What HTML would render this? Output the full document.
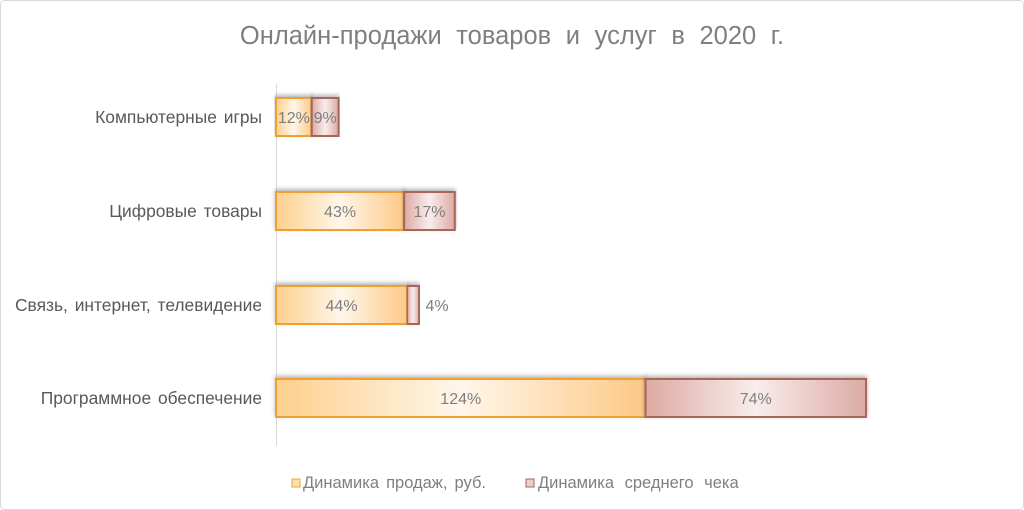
<!DOCTYPE html>
<html><head><meta charset="utf-8"><style>
body{margin:0;background:#fff;}
svg{display:block;font-family:"Liberation Sans",sans-serif;}
</style></head><body>
<svg id="c" width="1024" height="510">
<defs>
<linearGradient id="go" x1="0" x2="1" y1="0" y2="0">
<stop offset="0" stop-color="#fdd08c"/><stop offset="0.5" stop-color="#fff6ea"/><stop offset="1" stop-color="#fdc985"/></linearGradient>
<linearGradient id="gr" x1="0" x2="1" y1="0" y2="0">
<stop offset="0" stop-color="#ddaaa2"/><stop offset="0.5" stop-color="#f9eded"/><stop offset="1" stop-color="#dcaaa3"/></linearGradient>
<filter id="sh" x="-5%" y="-30%" width="110%" height="160%"><feDropShadow dx="0" dy="-2" stdDeviation="2" flood-color="#000" flood-opacity="0.3"/></filter>
</defs>
<rect x="0.5" y="0.5" width="1023" height="509" rx="4" fill="#fff" stroke="#d9d9d9"/>
<text x="512" y="44" text-anchor="middle" font-size="25.5" word-spacing="7.5" fill="#7f7f7f">Онлайн-продажи товаров и услуг в 2020 г.</text>
<line x1="276.5" y1="84" x2="276.5" y2="446" stroke="#d9d9d9"/>
<g id="bars"></g>
<g>
<rect x="292" y="479" width="8" height="8" fill="#fde0b0" stroke="#f0a030"/>
<text x="303" y="488" font-size="16.5" word-spacing="2.5" fill="#7f7f7f">Динамика продаж, руб.</text>
<rect x="526" y="479" width="8" height="8" fill="#ead0cc" stroke="#a86658"/>
<text x="538" y="488" font-size="16.5" word-spacing="6" fill="#7f7f7f">Динамика среднего чека</text>
</g>
</svg>
<script>
const categories=["Компьютерные игры","Цифровые товары","Связь, интернет, телевидение","Программное обеспечение"];
const sales=[12,43,44,124];
const avgCheck=[9,17,4,74];
const x0=276, pxPer=2.98, barH=38;
const rowCenters=[117,211,305,398];
const xs=v=>v*pxPer;
const g=document.getElementById('bars');
const ns='http://www.w3.org/2000/svg';
function mk(t,a){const e=document.createElementNS(ns,t);for(const k in a)e.setAttribute(k,a[k]);g.appendChild(e);return e;}
categories.forEach((c,i)=>{
  const cy=rowCenters[i], y=cy-barH/2;
  const lab=mk('text',{x:262,y:cy+6,'text-anchor':'end','font-size':17.4,'word-spacing':2,fill:'#595959'});
  lab.textContent=c;
  
  
  const w1=xs(sales[i]);
  const r1=mk('rect',{x:x0,y:y,width:w1,height:barH,fill:'url(#go)',stroke:'#f0a030','stroke-width':2,filter:'url(#sh)'});
  
  
  const w2=xs(avgCheck[i]);
  const r2=mk('rect',{x:x0+w1,y:y,width:w2,height:barH,fill:'url(#gr)',stroke:'#a86658','stroke-width':2,filter:'url(#sh)'});
  
  
  const t1=mk('text',{x:x0+w1/2,y:cy+6,'text-anchor':'middle','font-size':16,fill:'#7f7f7f'});
  t1.textContent=sales[i]+'%';
  
  
  const small=w2<30;
  const t2=mk('text',{x:small&&avgCheck[i]<6?x0+w1+w2+18:x0+w1+w2/2,y:cy+6,'text-anchor':'middle','font-size':16,fill:'#7f7f7f'});
  t2.textContent=avgCheck[i]+'%';
  
  
});
</script>
</body></html>
